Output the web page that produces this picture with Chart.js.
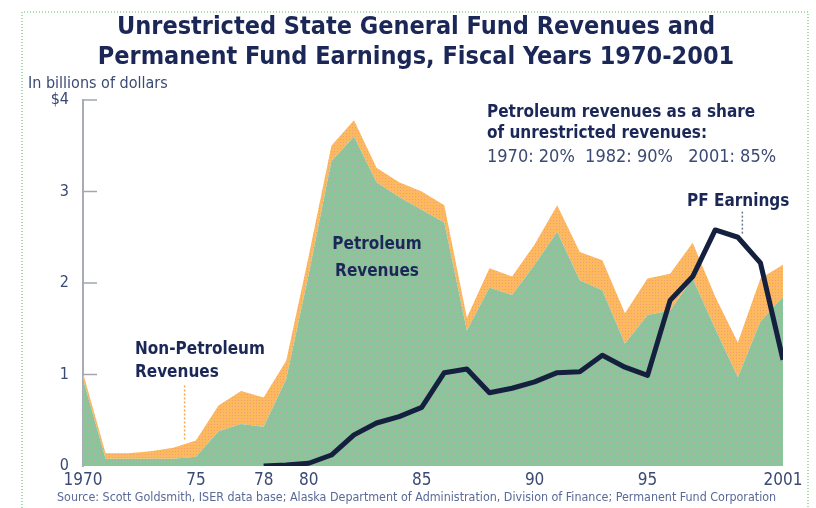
<!DOCTYPE html>
<html>
<head>
  <meta charset="utf-8">
  <title>Unrestricted State General Fund Revenues and Permanent Fund Earnings</title>
  <script src="https://cdn.jsdelivr.net/npm/chart.js"></script>
  <style>
    html, body {
      margin: 0;
      padding: 0;
      background: #ffffff;
    }
    .wrap {
      position: relative;
      width: 816px;
      height: 508px;
    }
  </style>
</head>
<body>

<div class="wrap">
  <canvas id="revenueChart" width="816" height="508"></canvas>
</div>

<script>
  // fiscal years and values, billions of dollars
  const years = [1970, 1971, 1972, 1973, 1974, 1975, 1976, 1977, 1978, 1979,
                 1980, 1981, 1982, 1983, 1984, 1985, 1986, 1987, 1988, 1989,
                 1990, 1991, 1992, 1993, 1994, 1995, 1996, 1997, 1998, 1999,
                 2000, 2001];
  const petroleum = [0.95, 0.08, 0.08, 0.08, 0.08, 0.10, 0.38, 0.46, 0.43, 0.95,
                     2.10, 3.33, 3.60, 3.10, 2.94, 2.80, 2.66, 1.48, 1.95, 1.87,
                     2.20, 2.56, 2.03, 1.92, 1.34, 1.65, 1.70, 2.05, 1.50, 0.97,
                     1.58, 1.85];
  const nonPetroleum = [0.07, 0.06, 0.06, 0.08, 0.12, 0.18, 0.28, 0.36, 0.32, 0.20,
                        0.20, 0.17, 0.18, 0.16, 0.16, 0.20, 0.19, 0.14, 0.21, 0.20,
                        0.22, 0.29, 0.31, 0.33, 0.33, 0.40, 0.40, 0.39, 0.35, 0.38,
                        0.47, 0.35];
  const pfEarnings = [null, null, null, null, null, null, null, null, 0.00, 0.01,
                      0.03, 0.12, 0.34, 0.47, 0.54, 0.64, 1.02, 1.06, 0.80, 0.85,
                      0.92, 1.02, 1.03, 1.21, 1.08, 0.99, 1.81, 2.07, 2.58, 2.50,
                      2.22, 1.16];
  const xTicks = [1970, 1975, 1978, 1980, 1985, 1990, 1995, 2001];
  const yTicks = [0, 1, 2, 3, 4];

  const titleLines = ['Unrestricted State General Fund Revenues and',
                      'Permanent Fund Earnings, Fiscal Years 1970-2001'];
  const noteLines = ['Petroleum revenues as a share', 'of unrestricted revenues:'];
  const noteShares = '1970: 20%  1982: 90%   2001: 85%';
  const sourceText = 'Source: Scott Goldsmith, ISER data base; Alaska Department of Administration, Division of Finance; Permanent Fund Corporation';

  const NARROW = '"DejaVu Sans Condensed", "Liberation Sans Narrow", sans-serif';
  const NAVY = '#1b2857';
  const SLATE = '#3b4a74';

  const canvas = document.getElementById('revenueChart');
  const ctx = canvas.getContext('2d');

  // halftone-like fill: base colour with a dot every 3px
  function dotPattern(base, dot) {
    const c = document.createElement('canvas');
    c.width = 3;
    c.height = 3;
    const p = c.getContext('2d');
    p.fillStyle = base;
    p.fillRect(0, 0, 3, 3);
    p.fillStyle = dot;
    p.fillRect(1, 1, 1, 1);
    return ctx.createPattern(c, 'repeat');
  }

  const toPoints = arr => years.map((yr, i) => ({ x: yr, y: arr[i] }));

  const annotations = {
    id: 'annotations',
    afterDatasetsDraw(chart) {
      const c = chart.ctx;
      const x = chart.scales.x;
      const y = chart.scales.y;
      c.save();

      // short tick marks inside the y axis
      c.strokeStyle = '#a3a6b2';
      c.lineWidth = 1.5;
      yTicks.forEach(v => {
        if (v === 0) return;
        const py = y.getPixelForValue(v);
        c.beginPath();
        c.moveTo(x.left, py);
        c.lineTo(x.left + 14, py);
        c.stroke();
      });

      // leader for the non-petroleum band
      c.strokeStyle = '#f7a84a';
      c.lineWidth = 1.5;
      c.setLineDash([2, 2]);
      c.beginPath();
      c.moveTo(x.getPixelForValue(1974.5), y.getPixelForValue(0.88));
      c.lineTo(x.getPixelForValue(1974.5), y.getPixelForValue(0.28));
      c.stroke();

      // leader for PF earnings
      c.strokeStyle = '#6a7896';
      c.beginPath();
      c.moveTo(x.getPixelForValue(1999.2), y.getPixelForValue(2.78));
      c.lineTo(x.getPixelForValue(1999.2), y.getPixelForValue(2.53));
      c.stroke();
      c.setLineDash([]);

      c.textBaseline = 'middle';
      c.fillStyle = SLATE;
      c.textAlign = 'left';
      c.font = '16px ' + NARROW;
      c.fillText('In billions of dollars', 28, 84);

      c.fillStyle = NAVY;
      c.font = 'bold 17px ' + NARROW;
      c.fillText(noteLines[0], 487, 113);
      c.fillText(noteLines[1], 487, 134);
      c.fillStyle = SLATE;
      c.font = '18px ' + NARROW;
      c.fillText(noteShares, 487, 157);

      c.fillStyle = NAVY;
      c.font = 'bold 17px ' + NARROW;
      c.fillText('PF Earnings', 687, 202);

      c.fillText('Non-Petroleum', 135, 350);
      c.fillText('Revenues', 135, 373);
      c.textAlign = 'center';
      c.fillText('Petroleum', 377, 245);
      c.fillText('Revenues', 377, 272);

      c.textAlign = 'left';
      c.fillStyle = '#5a6a98';
      c.font = '12.4px ' + NARROW;
      c.fillText(sourceText, 57, 498);

      // dotted frame
      c.strokeStyle = '#8fd08f';
      c.lineWidth = 1.5;
      c.setLineDash([1, 2]);
      c.beginPath();
      c.moveTo(22, chart.height);
      c.lineTo(22, 12);
      c.lineTo(chart.width - 8, 12);
      c.lineTo(chart.width - 8, chart.height);
      c.stroke();
      c.restore();
    }
  };

  new Chart(ctx, {
    type: 'line',
    data: {
      datasets: [
        {
          label: 'Petroleum Revenues',
          data: toPoints(petroleum),
          stack: 'revenues',
          backgroundColor: dotPattern('#8cc59a', '#b3a8ae'),
          borderWidth: 0,
          pointRadius: 0,
          fill: 'origin',
          order: 1
        },
        {
          label: 'Non-Petroleum Revenues',
          data: toPoints(nonPetroleum),
          stack: 'revenues',
          backgroundColor: dotPattern('#fcb95e', '#f29c7c'),
          borderWidth: 0,
          pointRadius: 0,
          fill: '-1',
          order: 2
        },
        {
          label: 'PF Earnings',
          data: toPoints(pfEarnings),
          stack: 'pf',
          borderColor: '#15203f',
          borderWidth: 5,
          borderJoinStyle: 'round',
          pointRadius: 0,
          fill: false,
          order: 0
        }
      ]
    },
    options: {
      responsive: false,
      animation: false,
      layout: {
        // left/right padding keeps the title centred over the whole frame
        padding: { top: 0, right: 33, bottom: 0, left: 49 }
      },
      plugins: {
        legend: { display: false },
        tooltip: { enabled: false },
        title: {
          display: true,
          text: titleLines,
          color: NAVY,
          font: { family: NARROW, size: 25, weight: 'bold', lineHeight: 1.2 },
          padding: { top: 12, bottom: 28 }
        }
      },
      elements: {
        line: { tension: 0 }
      },
      scales: {
        x: {
          type: 'linear',
          min: 1970,
          max: 2001,
          afterBuildTicks: scale => {
            scale.ticks = xTicks.map(v => ({ value: v }));
          },
          afterFit: scale => { scale.height = 42; },
          grid: { display: false, drawTicks: false },
          border: { display: false },
          ticks: {
            autoSkip: false,
            maxRotation: 0,
            padding: 4,
            color: SLATE,
            font: { family: NARROW, size: 17 },
            callback: v => (v === 1970 || v === 2001) ? String(v) : String(v).slice(2)
          }
        },
        y: {
          stacked: true,
          min: 0,
          max: 4,
          afterBuildTicks: scale => {
            scale.ticks = yTicks.map(v => ({ value: v }));
          },
          afterFit: scale => { scale.width = 34; },
          grid: { display: false, drawTicks: false },
          border: { display: true, color: '#a9abb5', width: 2 },
          ticks: {
            padding: 14,
            color: SLATE,
            font: { family: NARROW, size: 16 },
            callback: v => v === 4 ? '$4' : String(v)
          }
        }
      }
    },
    plugins: [annotations]
  });
</script>

</body>
</html>
